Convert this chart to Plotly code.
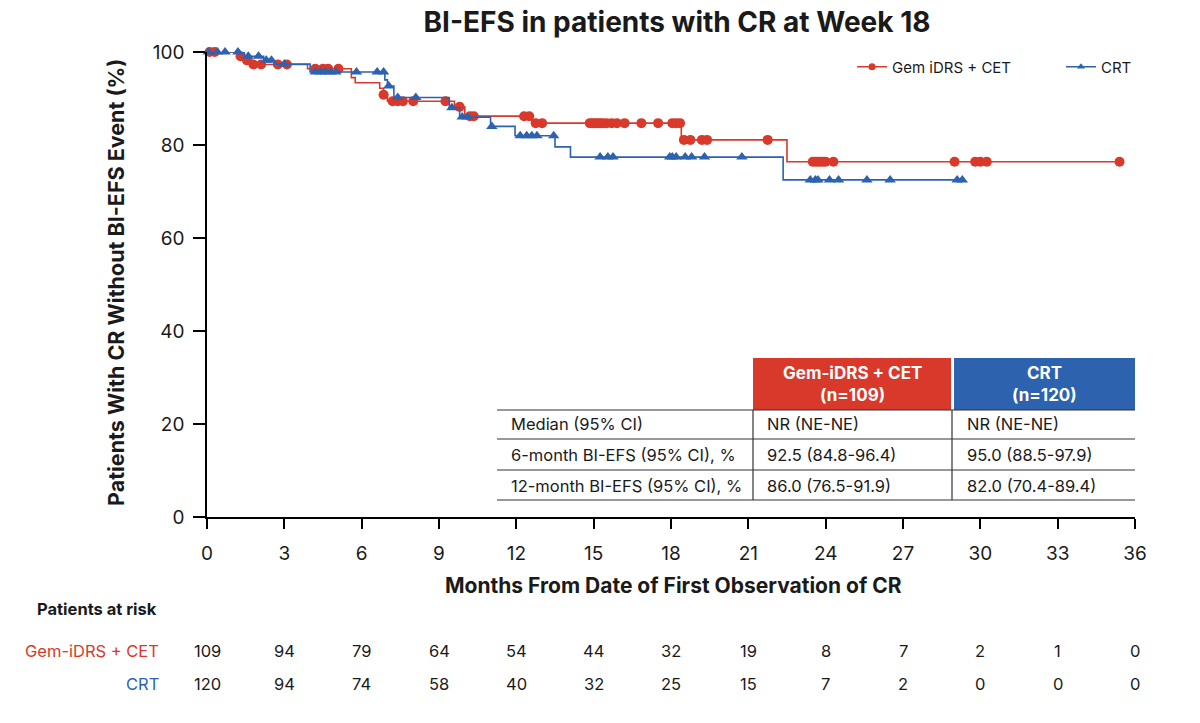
import plotly.graph_objects as go

# ---------------- data ----------------
months_ticks = [0, 3, 6, 9, 12, 15, 18, 21, 24, 27, 30, 33, 36]

gem_event_t = [0, 1.25, 1.5, 1.75, 3.9, 5.6, 5.75, 6.7, 6.85, 7.0, 9.6, 10.0, 12.6, 18.4, 22.5]
gem_event_s = [100, 99.1, 98.2, 97.3, 96.4, 94.5, 93.4, 92.2, 90.8, 89.4, 88.2, 86.2, 84.7, 81.1, 76.4]
gem_censor_t = [0.1, 0.3, 1.3, 1.55, 1.8, 2.1, 2.75, 3.1, 4.2, 4.5, 4.7, 5.1, 6.85, 7.2, 7.4, 7.6, 8.0,
                9.25, 9.8, 10.2, 10.35, 12.3, 12.5, 12.75, 13.0,
                14.85, 14.95, 15.05, 15.15, 15.25, 15.35, 15.5, 15.7, 15.9, 16.2, 16.85, 17.5,
                18.05, 18.2, 18.35, 18.5, 18.75, 19.2, 19.4, 21.75,
                23.5, 23.6, 23.7, 23.8, 23.9, 24.0, 24.3, 29.0, 29.8, 30.0, 30.25, 35.4]

crt_event_t = [0, 1.45, 2.2, 2.6, 4.0, 6.9, 7.0, 7.25, 9.4, 9.8, 11.0, 11.95, 13.5, 14.1, 22.35]
crt_event_s = [100, 99.1, 98.2, 97.4, 95.7, 94.0, 92.7, 90.2, 88.0, 86.0, 84.0, 82.0, 79.6, 77.4, 72.5]
crt_censor_t = [0.05, 0.4, 0.7, 1.2, 1.6, 2.0, 2.3, 2.5, 3.0, 4.2, 4.4, 4.6, 4.8, 5.0, 5.8, 6.6, 6.85,
                7.05, 7.4, 8.1, 9.5, 9.9, 10.1, 11.05, 12.15, 12.4, 12.6, 12.8, 13.45,
                15.25, 15.55, 15.75, 17.95, 18.05, 18.2, 18.55, 18.8, 19.3, 20.75,
                23.4, 23.6, 23.7, 24.15, 24.5, 25.6, 26.5, 29.1, 29.3]

gem_at_risk = [109, 94, 79, 64, 54, 44, 32, 19, 8, 7, 2, 1, 0]
crt_at_risk = [120, 94, 74, 58, 40, 32, 25, 15, 7, 2, 0, 0, 0]

table_header_1 = ["Gem-iDRS + CET", "CRT"]
table_header_2 = ["(n=109)", "(n=120)"]
table_rows = ["Median (95% CI)", "6-month BI-EFS (95% CI), %", "12-month BI-EFS (95% CI), %"]
table_gem = ["NR (NE-NE)", "92.5 (84.8-96.4)", "86.0 (76.5-91.9)"]
table_crt = ["NR (NE-NE)", "95.0 (88.5-97.9)", "82.0 (70.4-89.4)"]

RED = "#D9392A"
BLUE = "#2C62AE"
TXT = "#1a1a1a"
FONT = "Inter"

# ---------------- helpers ----------------
W, H = 1200, 723
L, R, T, B = 207, 65, 52, 206
PW, PH = W - L - R, H - T - B


def px(xp):
    return (xp - L) / PW


def py(yp):
    return (H - B - yp) / PH


def step_at(t, ts, ss):
    v = ss[0]
    for a, b in zip(ts, ss):
        if a <= t:
            v = b
    return v


def curve(ts, ss, censors):
    xs = list(ts) + [max(censors)]
    ys = list(ss) + [ss[-1]]
    cy = [step_at(c, ts, ss) for c in censors]
    return xs, ys, cy


fig = go.Figure()

for name, ts, ss, cens, col, sym in [
    ("Gem iDRS + CET", gem_event_t, gem_event_s, gem_censor_t, RED, "circle"),
    ("CRT", crt_event_t, crt_event_s, crt_censor_t, BLUE, "triangle-up"),
]:
    xs, ys, cy = curve(ts, ss, cens)
    fig.add_trace(go.Scatter(x=xs, y=ys, mode="lines", line=dict(color=col, width=1.6, shape="hv"),
                             showlegend=False, hoverinfo="skip", cliponaxis=False))
    fig.add_trace(go.Scatter(x=cens, y=cy, mode="markers",
                             marker=dict(color=col, symbol=sym, size=10),
                             showlegend=False, cliponaxis=False))
    fig.add_trace(go.Scatter(x=[None], y=[None], mode="lines+markers", name=name,
                             line=dict(color=col, width=1.6),
                             marker=dict(color=col, symbol=sym, size=7)))

shapes = []
ann = []


def text(x, y, s, size, color=TXT, xanchor="center", xref="paper", angle=0):
    ann.append(dict(xref=xref, yref="paper", x=x, y=y, text=s, xanchor=xanchor, yanchor="middle",
                    showarrow=False, textangle=angle, font=dict(family=FONT, size=size, color=color)))


# table header cells
shapes.append(dict(type="rect", xref="paper", yref="paper", x0=px(753), x1=px(951), y0=py(410), y1=py(358),
                    fillcolor=RED, line=dict(width=0), layer="above"))
shapes.append(dict(type="rect", xref="paper", yref="paper", x0=px(954), x1=px(1135), y0=py(410), y1=py(358),
                    fillcolor=BLUE, line=dict(width=0), layer="above"))
for cx, t1, t2 in zip([852, 1044], table_header_1, table_header_2):
    text(px(cx), py(373), "<b>" + t1 + "</b>", 17, "white")
    text(px(cx), py(395), "<b>" + t2 + "</b>", 17, "white")
for yl in [410, 439, 470, 500]:
    shapes.append(dict(type="line", xref="paper", yref="paper", x0=px(497), x1=px(1135), y0=py(yl), y1=py(yl),
                        line=dict(color="#333333", width=1.2)))
for xl in [753, 952]:
    shapes.append(dict(type="line", xref="paper", yref="paper", x0=px(xl), x1=px(xl), y0=py(410), y1=py(500),
                        line=dict(color="#333333", width=1.2)))
for i, ry in enumerate([424, 455, 486]):
    for cx, txt in zip([509, 765, 965], [table_rows[i], table_gem[i], table_crt[i]]):
        text(px(cx), py(ry), txt, 16.5, xanchor="left")

# axis titles
text(px(673), py(585), "<b>Months From Date of First Observation of CR</b>", 21)
text(px(116), py(283), "<b>Patients With CR Without BI-EFS Event (%)</b>", 21.5, angle=-90)

# at-risk table
text(px(35), py(609), "<b>Patients at risk</b>", 16.5, xanchor="left")
text(px(161), py(651), "Gem-iDRS + CET", 16.5, RED, xanchor="right")
text(px(161), py(684), "CRT", 16.5, BLUE, xanchor="right")
for m, g, c in zip(months_ticks, gem_at_risk, crt_at_risk):
    text(m, py(651), str(g), 16.5, xref="x")
    text(m, py(684), str(c), 16.5, xref="x")

fig.update_layout(
    width=W, height=H,
    margin=dict(l=L, r=R, t=T, b=B, autoexpand=False),
    paper_bgcolor="white", plot_bgcolor="white",
    font=dict(family=FONT, color=TXT),
    title=dict(text="<b>BI-EFS in patients with CR at Week 18</b>", x=px(677), xref="paper",
               y=1 - 22 / H, yref="container", xanchor="center", yanchor="middle",
               font=dict(family=FONT, size=28, color=TXT)),
    xaxis=dict(range=[0, 36], tickvals=months_ticks, ticks="outside", ticklen=10, tickwidth=1.5,
               tickcolor="black", showline=True, linecolor="black", linewidth=1.5, showgrid=False,
               zeroline=False, tickfont=dict(family=FONT, size=19, color=TXT), ticklabelstandoff=8),
    yaxis=dict(range=[0, 100], tickvals=[0, 20, 40, 60, 80, 100], ticks="outside", ticklen=12, tickwidth=1.5,
               tickcolor="black", showline=True, linecolor="black", linewidth=1.5, showgrid=False,
               zeroline=False, tickfont=dict(family=FONT, size=19, color=TXT), ticklabelstandoff=5),
    legend=dict(orientation="h", x=px(852), y=py(67), xanchor="left", yanchor="middle",
                font=dict(family=FONT, size=15, color=TXT), entrywidth=164, entrywidthmode="pixels",
                bgcolor="rgba(0,0,0,0)"),
    shapes=shapes,
    annotations=ann,
    showlegend=True,
)

fig.write_html("out.html")
